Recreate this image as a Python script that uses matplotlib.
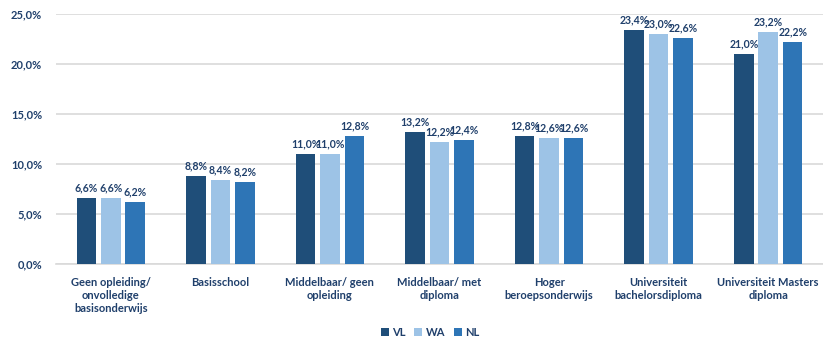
import matplotlib
matplotlib.use("Agg")
import matplotlib.pyplot as plt
import numpy as np

categories = [
    "Geen opleiding/\nonvolledige\nbasisonderwijs",
    "Basisschool",
    "Middelbaar/ geen\nopleiding",
    "Middelbaar/ met\ndiploma",
    "Hoger\nberoepsonderwijs",
    "Universiteit\nbachelorsdiploma",
    "Universiteit Masters\ndiploma",
]
vl = [6.6, 8.8, 11.0, 13.2, 12.8, 23.4, 21.0]
wa = [6.6, 8.4, 11.0, 12.2, 12.6, 23.0, 23.2]
nl = [6.2, 8.2, 12.8, 12.4, 12.6, 22.6, 22.2]
series = [("VL", vl, "#1F4E79"), ("WA", wa, "#9DC3E6"), ("NL", nl, "#2E75B6")]
yticks = [0, 5, 10, 15, 20, 25]

TEXT = "#1F3F6B"
plt.rcParams["font.family"] = ["Lato", "DejaVu Sans"]

fig = plt.figure(figsize=(8.23, 3.4), dpi=100)
ax = fig.add_axes([56 / 823, (340 - 264) / 340, (823 - 56) / 823, 250 / 340])

x = np.arange(len(categories))
width = 0.178
step = 0.223
for i, (name, vals, color) in enumerate(series):
    pos = x + (i - 1) * step
    bars = ax.bar(pos, vals, width=width, color=color, label=name, zorder=3)
    for b, v in zip(bars, vals):
        ax.text(b.get_x() + b.get_width() / 2, v + 0.5, f"{v:.1f}%".replace(".", ","),
                ha="center", va="bottom", fontsize=7.6, fontweight="bold", color=TEXT)

ax.set_xlim(-0.5, len(categories) - 0.5)
ax.set_ylim(0, 25)
ax.set_yticks(yticks)
ax.set_yticklabels([f"{t:.1f}%".replace(".", ",") for t in yticks],
                   fontsize=8, fontweight="bold", color=TEXT)
ax.set_xticks(x)
ax.set_xticklabels(categories, fontsize=8, fontweight="bold", color=TEXT, linespacing=1.25)
ax.tick_params(axis="both", length=0)
ax.tick_params(axis="x", pad=9)
ax.tick_params(axis="y", pad=10)
ax.grid(axis="y", color="#D9D9D9", linewidth=1.2, zorder=0)
for s in ["top", "right", "left"]:
    ax.spines[s].set_visible(False)
ax.spines["bottom"].set_color("#D9D9D9")
ax.spines["bottom"].set_linewidth(1.2)

fig.legend(loc="center", bbox_to_anchor=(430 / 823, 1 - 332 / 340), ncol=3, frameon=False,
           prop={"weight": "bold", "size": 8}, handlelength=0.7, handleheight=0.7,
           handletextpad=0.3, columnspacing=0.8, labelcolor=TEXT)

fig.savefig("out.png", dpi=100)
